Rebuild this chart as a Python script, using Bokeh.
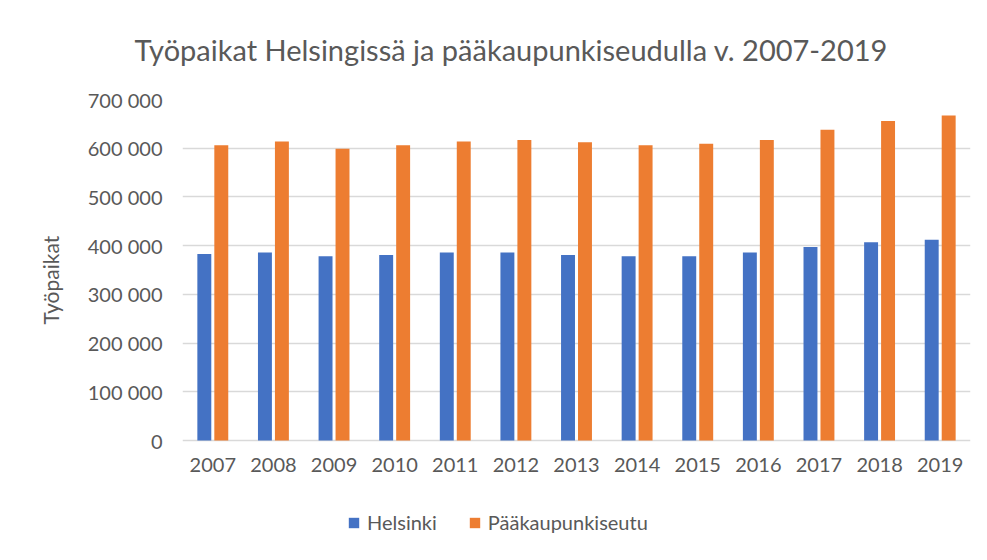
from bokeh.plotting import figure
from bokeh.models import (ColumnDataSource, FactorRange, Range1d, Legend, LegendItem,
                          FixedTicker, Title)
from bokeh.core.properties import value
from bokeh.transform import dodge
from bokeh.embed import file_html
from bokeh.resources import INLINE

years = ["2007", "2008", "2009", "2010", "2011", "2012", "2013",
         "2014", "2015", "2016", "2017", "2018", "2019"]
helsinki = [383000, 386000, 378000, 381000, 386000, 386000, 381000,
            378000, 378000, 386000, 397000, 407000, 412000]
paakaupunkiseutu = [606000, 614000, 599000, 606000, 614000, 617000, 612000,
                    606000, 609000, 617000, 638000, 656000, 667000]
y_ticks = [0, 100000, 200000, 300000, 400000, 500000, 600000, 700000]
y_tick_labels = ["0", "100 000", "200 000", "300 000", "400 000",
                 "500 000", "600 000", "700 000"]
series_names = ["Helsinki", "Pääkaupunkiseutu"]
title_text = "Työpaikat Helsingissä ja pääkaupunkiseudulla v. 2007-2019"
y_label = "Työpaikat"

BLUE = "#4472C4"
ORANGE = "#ED7D31"
TEXT = "#595959"
GRID = "#d9d9d9"
FONT = "Lato"

# layout (pixels): value axis 0..700000 spans 341 px; the frame continues
# 109 px below zero so that the category labels and legend fit inside it
Y_MAX = 700000
AXIS_PX = 341
BELOW_PX = 109
y_min = -Y_MAX * BELOW_PX / AXIS_PX

src = ColumnDataSource(data=dict(year=years, hel=helsinki, pks=paakaupunkiseutu,
                                 base=[0] * len(years)))

p = figure(x_range=FactorRange(*years, range_padding=0),
           y_range=Range1d(y_min, Y_MAX),
           width=985, height=558,
           output_backend="svg", toolbar_location=None,
           min_border_left=182, min_border_right=15,
           min_border_top=99, min_border_bottom=9)

r1 = p.vbar(x=dodge("year", -0.14, range=p.x_range), top="hel", width=0.23,
            source=src, color=BLUE, line_color=None)
r2 = p.vbar(x=dodge("year", 0.14, range=p.x_range), top="pks", width=0.23,
            source=src, color=ORANGE, line_color=None)

# category labels under the zero line
p.text(x="year", y="base", text="year", source=src,
       text_font=value(FONT), text_font_size="20px", text_color=TEXT,
       text_align="center", text_baseline="top", y_offset=17)

p.title.text = title_text
p.title.text_font = FONT
p.title.text_font_size = "29px"
p.title.text_font_style = "normal"
p.title.text_color = TEXT
p.title.align = "left"
p.title.offset = -48
p.title.vertical_align = "top"
p.title.standoff = 62

p.outline_line_color = None
p.xgrid.grid_line_color = None
p.ygrid.grid_line_color = GRID
p.ygrid.grid_line_width = 1.5
p.xaxis.visible = False

p.yaxis.ticker = FixedTicker(ticks=y_ticks)
p.yaxis.major_label_overrides = {t: l for t, l in zip(y_ticks, y_tick_labels)}
p.yaxis.axis_line_color = None
p.yaxis.major_tick_line_color = None
p.yaxis.minor_tick_line_color = None
p.yaxis.major_label_standoff = 14
p.yaxis.major_label_text_font = FONT
p.yaxis.major_label_text_font_size = "20px"
p.yaxis.major_label_text_color = TEXT

# value-axis title, centred on the 0..700000 part of the frame
ytitle = Title(text=y_label, align="left", offset=225, standoff=44,
               text_font=FONT, text_font_size="21px", text_font_style="normal",
               text_color=TEXT)
p.add_layout(ytitle, "left")

legend = Legend(items=[LegendItem(label=series_names[0], renderers=[r1]),
                       LegendItem(label=series_names[1], renderers=[r2])],
                orientation="horizontal", location=(165, 15),
                padding=0, margin=0, spacing=31,
                glyph_width=13, glyph_height=13, label_standoff=7,
                label_text_font=FONT, label_text_font_size="20px",
                label_text_color=TEXT, border_line_color=None,
                background_fill_alpha=0)
p.add_layout(legend, "center")

open("out.html", "w").write(file_html(p, INLINE))
